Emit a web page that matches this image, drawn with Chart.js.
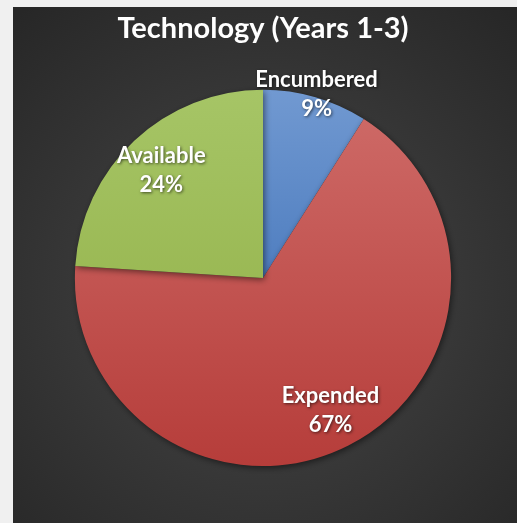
<!DOCTYPE html>
<html>
<head>
<meta charset="utf-8">
<script src="https://cdn.jsdelivr.net/npm/chart.js@4.4.1/dist/chart.umd.min.js"></script>
<style>
  html, body { margin: 0; padding: 0; background: #f0f0f0; width: 517px; height: 523px; overflow: hidden; }
  #wrap { position: absolute; left: 13px; top: 7px; width: 504px; height: 516px; }
</style>
</head>
<body>
<div id="wrap"><canvas id="c" width="504" height="516"></canvas></div>
<script>
const categories = ["Encumbered", "Expended", "Available"];
const values = [9, 67, 24];
const topColors = ["#7199d1", "#cf6c69", "#a6c566"];
const bottomColors = ["#2c62ae", "#b63d3a", "#8fad43"];
const chartTitle = "Technology (Years 1-3)";

const bgPlugin = {
  id: 'panelBg',
  beforeDraw(chart) {
    const ctx = chart.ctx, w = chart.width, h = chart.height;
    const g = ctx.createRadialGradient(w * 0.5, h * 0.55, 10, w * 0.5, h * 0.55, Math.max(w, h) * 0.72);
    g.addColorStop(0, '#474747');
    g.addColorStop(1, '#272727');
    ctx.save();
    ctx.fillStyle = g;
    ctx.fillRect(0, 0, w, h);
    ctx.restore();
  }
};

const shadowPlugin = {
  id: 'arcShadow',
  beforeDatasetsDraw(chart) {
    const ctx = chart.ctx;
    ctx.save();
    ctx.shadowColor = 'rgba(0,0,0,0.5)';
    ctx.shadowBlur = 6;
    ctx.shadowOffsetX = 1.5;
    ctx.shadowOffsetY = 2;
  },
  afterDatasetsDraw(chart) {
    chart.ctx.restore();
  }
};

const labelPlugin = {
  id: 'sliceLabels',
  afterDatasetsDraw(chart) {
    const ctx = chart.ctx;
    const meta = chart.getDatasetMeta(0);
    const data = chart.data.datasets[0].data;
    const total = data.reduce((a, b) => a + b, 0);
    ctx.save();
    ctx.font = 'bold 22px Lato, "Open Sans", sans-serif';
    ctx.fillStyle = '#ffffff';
    ctx.textAlign = 'center';
    ctx.textBaseline = 'middle';
    ctx.shadowColor = 'rgba(0,0,0,0.6)';
    ctx.shadowBlur = 3;
    ctx.shadowOffsetX = 1;
    ctx.shadowOffsetY = 1;
    meta.data.forEach((arc, i) => {
      const p = arc.getProps(['x', 'y', 'startAngle', 'endAngle', 'outerRadius'], true);
      const mid = (p.startAngle + p.endAngle) / 2;
      const frac = data[i] / total;
      const f = frac < 0.15 ? 1.02 : 0.79;
      const x = p.x + Math.cos(mid) * p.outerRadius * f;
      const y = p.y + Math.sin(mid) * p.outerRadius * f;
      ctx.fillText(chart.data.labels[i], x, y - 14);
      ctx.fillText(Math.round(frac * 100) + '%', x, y + 15);
    });
    ctx.restore();
  }
};

function sliceGradient(context) {
  const chart = context.chart;
  const area = chart.chartArea;
  if (!area) return topColors[context.dataIndex];
  const g = chart.ctx.createLinearGradient(0, area.top, 0, area.bottom);
  g.addColorStop(0, topColors[context.dataIndex]);
  g.addColorStop(1, bottomColors[context.dataIndex]);
  return g;
}

new Chart(document.getElementById('c'), {
  type: 'pie',
  data: {
    labels: categories,
    datasets: [{
      data: values,
      backgroundColor: sliceGradient,
      borderWidth: 0
    }]
  },
  options: {
    responsive: false,
    animation: false,
    layout: { padding: { top: 0, bottom: 57, left: 0, right: 4 } },
    plugins: {
      legend: { display: false },
      tooltip: { enabled: false },
      title: {
        display: true,
        text: chartTitle,
        color: '#ffffff',
        font: { family: 'Lato, "Open Sans", sans-serif', size: 29, weight: 'bold', lineHeight: 1.2 },
        padding: { top: 4, bottom: 44 }
      }
    }
  },
  plugins: [bgPlugin, shadowPlugin, labelPlugin]
});
</script>
</body>
</html>
